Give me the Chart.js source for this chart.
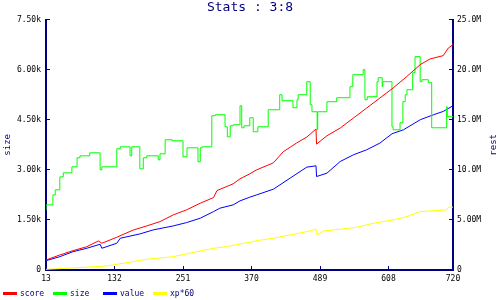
<!DOCTYPE html>
<html>
<head>
<meta charset="utf-8">
<script src="https://cdn.jsdelivr.net/npm/chart.js@4.4.1/dist/chart.umd.min.js"></script>
<style>
  html, body { margin: 0; padding: 0; background: #fff; }
</style>
</head>
<body>
<canvas id="chartStats" width="500" height="300"></canvas>
<script>
// === Données ===
const xTicks = [13, 132, 251, 370, 489, 608, 720];
const sizeTickLabels = ["0", "1.50k", "3.00k", "4.50k", "6.00k", "7.50k"];
const restTickLabels = ["0", "5.00M", "10.0M", "15.0M", "20.0M", "25.0M"];

// score (rest, en M)
const scoreX = [13, 37, 60, 84, 104, 110, 136, 165, 188, 211, 234, 257, 281, 304, 310, 338, 350, 367, 379, 408, 425, 448, 466, 482, 483, 501, 524, 547, 570, 593, 616, 640, 663, 680, 703, 712, 720];
const scoreY = [1.0, 1.5, 1.93, 2.33, 2.9, 2.67, 3.27, 4.0, 4.4, 4.83, 5.5, 6.0, 6.67, 7.23, 7.93, 8.6, 9.1, 9.6, 10.0, 10.7, 11.8, 12.67, 13.27, 14.07, 12.57, 13.4, 14.17, 15.17, 16.17, 17.17, 18.17, 19.33, 20.5, 21.07, 21.4, 22.17, 22.5];

// size (axe gauche)
const sizeX = [13, 25, 29, 37, 43, 58, 67, 72, 89, 107, 110, 136, 142, 159, 162, 176, 182, 188, 208, 211, 220, 232, 251, 258, 277, 281, 284, 301, 307, 324, 328, 333, 338, 350, 353, 357, 367, 373, 381, 399, 402, 419, 423, 442, 449, 451, 466, 472, 475, 484, 485, 494, 501, 518, 541, 546, 564, 567, 571, 588, 590, 597, 598, 614, 616, 628, 633, 637, 640, 650, 654, 663, 666, 677, 683, 689, 709, 710, 720];
const sizeY = [1800, 1950, 2250, 2400, 2790, 2910, 3090, 3360, 3420, 3510, 3000, 3090, 3630, 3690, 3420, 3690, 3030, 3360, 3420, 3300, 3480, 3900, 3870, 3390, 3660, 3240, 3660, 3690, 4620, 4650, 4290, 3990, 4320, 4350, 4920, 4260, 4320, 4560, 4140, 4290, 4800, 4800, 5250, 5070, 4860, 5100, 5250, 5640, 4950, 4740, 4200, 4740, 4740, 5040, 5160, 5490, 5850, 6000, 5100, 5190, 5640, 5760, 5490, 5640, 4290, 4200, 4410, 5040, 5250, 5400, 5910, 6390, 5640, 5700, 5610, 4260, 4260, 4890, 4590];

// value (rest, en M)
const valueX = [13, 37, 60, 84, 107, 110, 136, 142, 176, 199, 234, 257, 281, 304, 315, 338, 350, 367, 379, 408, 437, 466, 482, 483, 501, 524, 547, 570, 593, 614, 634, 663, 686, 703, 720];
const valueY = [0.93, 1.33, 1.83, 2.17, 2.57, 2.17, 2.67, 3.17, 3.6, 4.0, 4.4, 4.73, 5.17, 5.83, 6.17, 6.5, 6.9, 7.27, 7.5, 8.07, 9.17, 10.27, 10.4, 9.33, 9.67, 10.83, 11.5, 12.0, 12.67, 13.6, 14.0, 15.0, 15.5, 15.83, 16.4];

// xp*60 (rest, en M)
const xpX = [13, 60, 118, 147, 188, 234, 275, 304, 327, 356, 367, 379, 408, 437, 466, 482, 484, 495, 524, 553, 582, 616, 640, 663, 709, 712, 720];
const xpY = [0.07, 0.2, 0.4, 0.67, 1.07, 1.33, 1.83, 2.17, 2.33, 2.67, 2.75, 2.93, 3.17, 3.5, 3.83, 4.07, 3.5, 3.9, 4.07, 4.27, 4.67, 5.0, 5.33, 5.83, 6.0, 6.27, 6.27];

const NAVY = "#000080";
const MONO = "'DejaVu Sans Mono', monospace";

const pts = (xs, ys) => xs.map((x, i) => ({ x, y: ys[i] }));

// === Légende et titre de droite dessinés à la main ===
const extras = {
  id: "extras",
  afterDraw(chart) {
    const c = chart.ctx;
    const area = chart.chartArea;
    c.save();
    // titre axe droit, lu de bas en haut
    c.font = "9px " + MONO;
    c.fillStyle = NAVY;
    c.textAlign = "center";
    c.textBaseline = "middle";
    c.translate(494, (area.top + area.bottom) / 2);
    c.rotate(-Math.PI / 2);
    c.fillText("rest", 0, 0);
    c.setTransform(1, 0, 0, 1, 0, 0);
    // légende
    c.font = "8px " + MONO;
    c.textAlign = "left";
    chart.data.datasets.forEach((ds, i) => {
      const x = 3 + i * 50;
      c.fillStyle = ds.borderColor;
      c.fillRect(x, 292, 14, 3);
      c.fillStyle = NAVY;
      c.fillText(ds.label, x + 17, 294);
    });
    c.restore();
  }
};

const noPad = (w, h) => (s) => {
  if (w) s.width = w;
  if (h) s.height = h;
  s.paddingTop = s.paddingBottom = s.paddingLeft = s.paddingRight = 0;
};

// === Graphique ===
const ctx = document.getElementById("chartStats").getContext("2d");
const chart = new Chart(ctx, {
  type: "line",
  data: {
    datasets: [
      { label: "score", data: pts(scoreX, scoreY), borderColor: "#ff0000", yAxisID: "yRest" },
      { label: "size", data: pts(sizeX, sizeY), borderColor: "#00ff00", yAxisID: "ySize", stepped: "after" },
      { label: "value", data: pts(valueX, valueY), borderColor: "#0000ff", yAxisID: "yRest" },
      { label: "xp*60", data: pts(xpX, xpY), borderColor: "#ffff00", yAxisID: "yRest" }
    ]
  },
  options: {
    responsive: false,
    animation: false,
    layout: { padding: { bottom: 12 } },
    elements: {
      line: { borderWidth: 1, tension: 0 },
      point: { radius: 0 }
    },
    plugins: {
      legend: { display: false },
      tooltip: { enabled: false },
      title: {
        display: true,
        text: "Stats : 3:8",
        color: NAVY,
        font: { family: MONO, size: 13, weight: "normal" },
        padding: { top: 0, bottom: 4 }
      }
    },
    scales: {
      x: {
        type: "linear",
        min: 13,
        max: 720,
        afterBuildTicks: (s) => { s.ticks = xTicks.map(v => ({ value: v })); },
        afterFit: noPad(0, 18),
        border: { color: NAVY, width: 2 },
        grid: { drawOnChartArea: false, color: NAVY, tickLength: -4 },
        ticks: { font: { family: MONO, size: 8 }, color: "#000", padding: 8, maxRotation: 0, autoSkip: false }
      },
      ySize: {
        position: "left",
        min: 0,
        max: 7500,
        ticks: {
          stepSize: 1500,
          font: { family: MONO, size: 8 },
          color: "#000",
          padding: 9,
          callback: (v, i) => sizeTickLabels[i]
        },
        afterFit: noPad(46, 0),
        border: { color: NAVY, width: 2 },
        grid: { drawOnChartArea: false, color: NAVY, tickLength: -4 },
        title: { display: true, text: "size", color: NAVY, font: { family: MONO, size: 9 }, padding: { top: 2, bottom: 0 } }
      },
      yRest: {
        position: "right",
        min: 0,
        max: 25,
        ticks: {
          stepSize: 5,
          font: { family: MONO, size: 8 },
          color: "#000",
          padding: 8,
          callback: (v, i) => restTickLabels[i]
        },
        afterFit: noPad(47, 0),
        border: { color: NAVY, width: 2 },
        grid: { drawOnChartArea: false, color: NAVY, tickLength: -4 }
      }
    }
  },
  plugins: [extras]
});
</script>
</body>
</html>
